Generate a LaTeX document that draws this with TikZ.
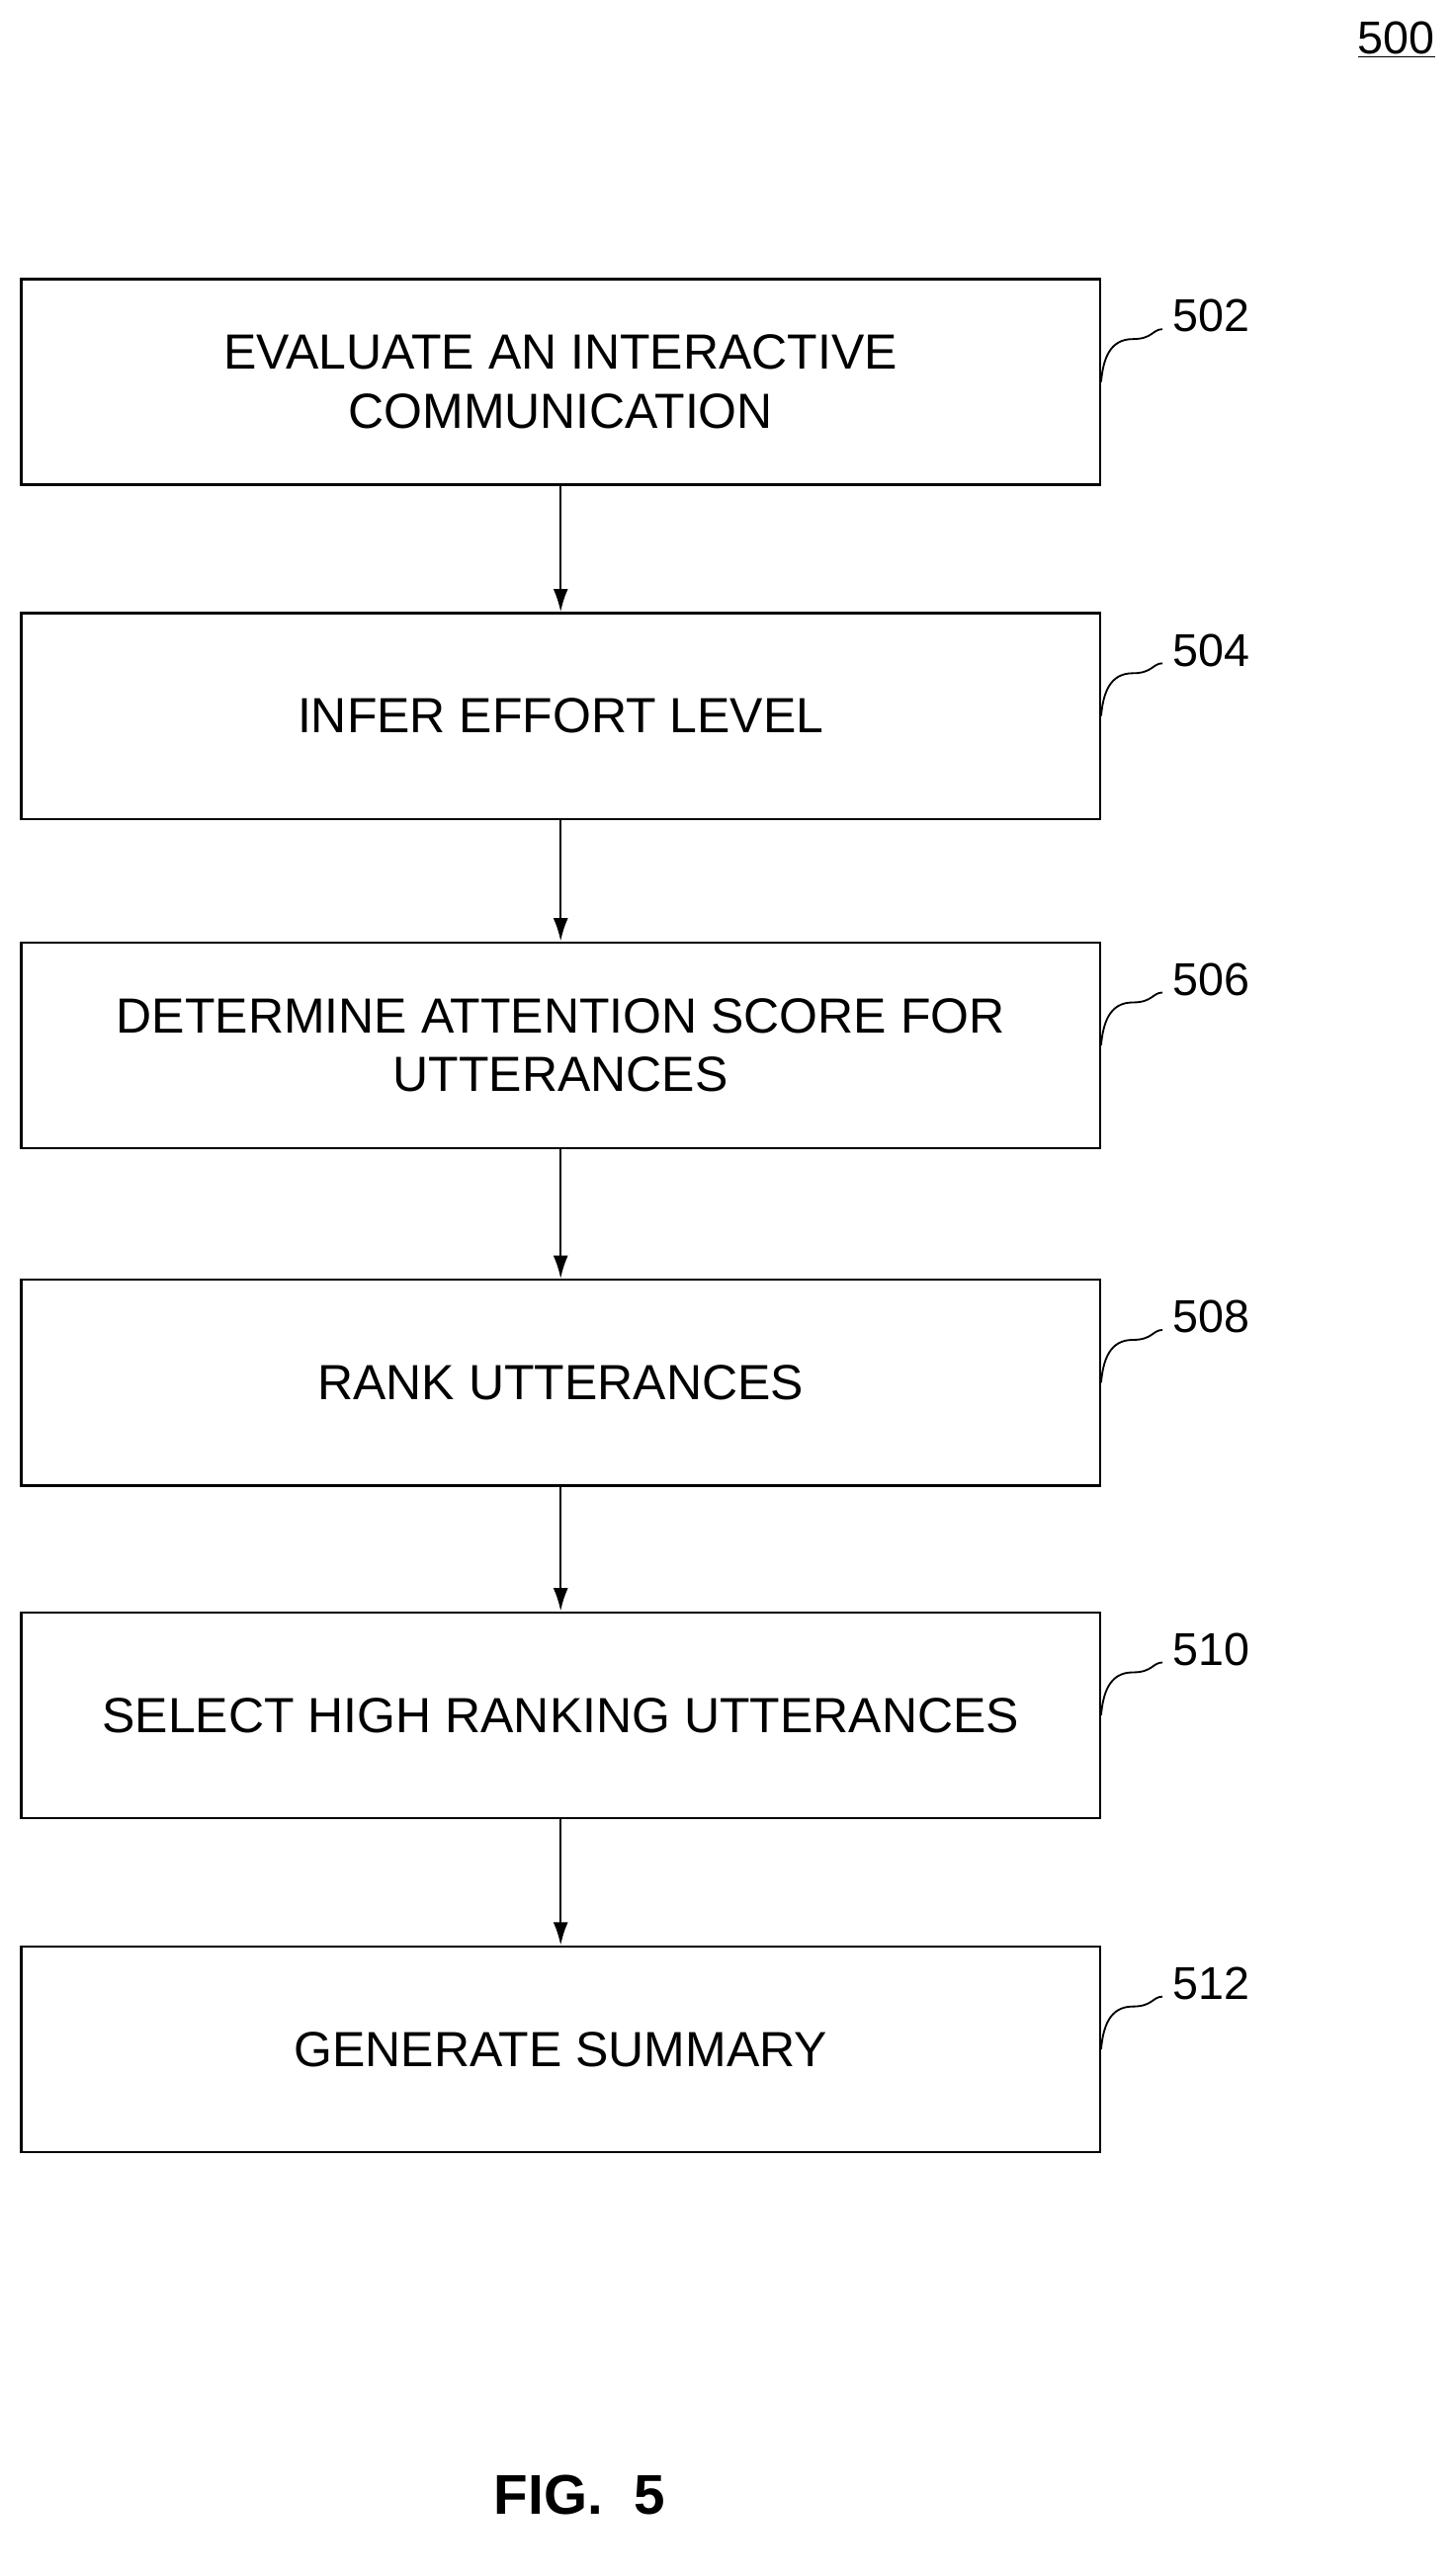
\documentclass[tikz,border=0pt]{standalone}
\usepackage{fontspec}
\setmainfont{Liberation Sans}
\usetikzlibrary{arrows.meta}
\begin{document}
\begin{tikzpicture}[x=1pt,y=-1pt,
  box/.style={draw,line width=1.4pt,minimum width=655pt,minimum height=125pt,align=center,inner sep=0pt,font=\fontsize{30}{36}\selectfont},
  arr/.style={-{Latex[length=14pt,width=9pt]},line width=1.4pt},
  lab/.style={font=\fontsize{28}{32}\selectfont,anchor=west,inner sep=0pt},
  sq/.style={line width=1.1pt}]
\useasboundingbox (0,0) rectangle (883,1565);
\node[font=\fontsize{28}{32}\selectfont] (n500) at (848,24) {\underline{500}};
\foreach \n/\y/\t in {502/232/{EVALUATE AN INTERACTIVE\\COMMUNICATION},504/435/{INFER EFFORT LEVEL},506/635/{DETERMINE ATTENTION SCORE FOR\\UTTERANCES},508/840/{RANK UTTERANCES},510/1042/{SELECT HIGH RANKING UTTERANCES},512/1245/{GENERATE SUMMARY}}{
  \node[box] (b\n) at (340.5,\y) {\t};
  \coordinate (s\n) at (706,\y-32);
  \draw[sq] (b\n.east) .. controls (670,\y-14) and (674,\y-26) .. (688,\y-26) .. controls (700,\y-26) and (700,\y-32) .. (s\n);
  \node[lab] (l\n) at (712,\y-40) {\n};
}
\draw[arr] (b502) -- (b504);
\draw[arr] (b504) -- (b506);
\draw[arr] (b506) -- (b508);
\draw[arr] (b508) -- (b510);
\draw[arr] (b510) -- (b512);
\node[font=\bfseries\fontsize{34}{40}\selectfont] (fig) at (352,1516) {FIG.~~5};
\end{tikzpicture}
\end{document}
